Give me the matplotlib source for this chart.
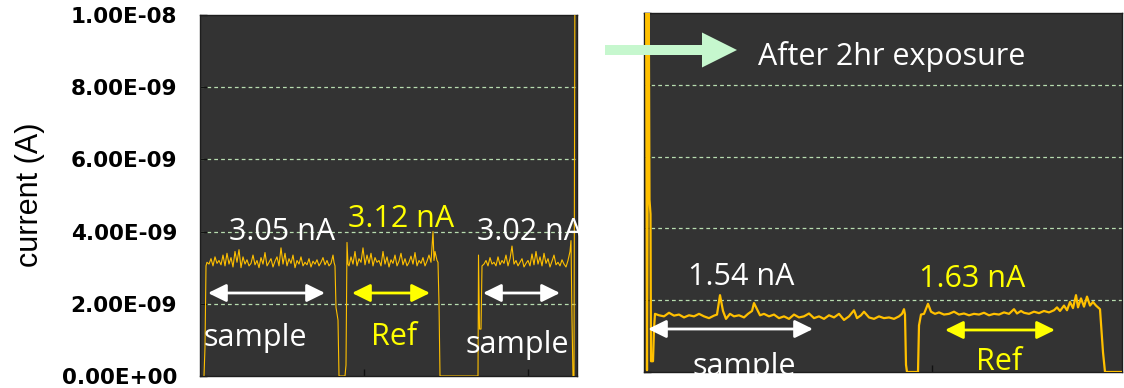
import matplotlib.pyplot as plt
import matplotlib.patches as mpatches

# ---- data (time in s, current in nA) ----
# before exposure: sample / Ref / sample
t_before = [4, 5, 6,
            7, 9, 11, 13, 15, 17, 19, 21, 23, 25, 27, 29, 31, 33, 35, 37, 39, 41,
            43, 45, 47, 49, 51, 53, 55, 57, 59, 61, 63, 65, 67, 69, 71, 73, 75, 77,
            79, 81, 83, 85, 87, 89, 91, 93, 95, 97, 99, 101, 103, 105, 107, 109,
            111, 113, 115, 117, 119, 121, 123, 125, 127, 129, 131, 133, 134, 135,
            136, 138, 139, 145,
            146, 147, 148,
            149, 151, 153, 155, 157, 159, 161, 163, 165, 167, 169, 171, 173, 175,
            177, 179, 181, 183, 185, 187, 189, 191, 193, 195, 197, 199, 201, 203,
            205, 207, 209, 211, 213, 215, 217, 219, 221, 223, 225, 227, 229, 231,
            233, 234, 235, 237, 238, 239, 240,
            278, 278.5, 279.5, 281, 282,
            284, 286, 288, 290, 292, 294, 296, 298, 300, 302, 304, 306, 308, 310,
            312, 314, 316, 318, 320, 322, 324, 326, 328, 330, 332, 334, 336, 338,
            340, 342, 344, 346, 348, 350, 352, 354, 356, 358, 360, 362, 364, 366,
            368, 370, 371, 372, 373, 374, 375, 377]
i_before = [0.0, 0.8, 3.05,
            3.15, 3.10, 3.25, 3.05, 3.30, 3.12, 3.20, 3.08, 3.35, 3.05, 3.40, 3.10,
            3.28, 3.02, 3.45, 3.15, 3.50, 3.00, 3.30, 3.10, 3.22, 3.05, 3.12, 3.35,
            3.08, 3.20, 3.00, 3.28, 3.10, 3.42, 3.05, 3.15, 3.25, 3.02, 3.18, 3.30,
            3.05, 3.55, 3.10, 3.40, 3.05, 3.25, 3.12, 3.35, 3.00, 3.20, 3.10, 3.30,
            3.05, 3.15, 3.08, 3.25, 3.02, 3.18, 3.10, 3.22, 3.05, 3.15, 3.28, 3.08,
            3.20, 3.05, 3.12, 3.35, 3.15, 3.05,
            1.90, 1.55, 0.0, 0.0,
            0.3, 3.70, 3.10,
            3.05, 3.30, 3.10, 3.45, 3.05, 3.25, 3.15, 3.55, 3.08, 3.35, 3.12, 3.40,
            3.05, 3.28, 3.15, 3.20, 3.05, 3.45, 3.10, 3.30, 3.02, 3.22, 3.12, 3.35,
            3.05, 3.18, 3.40, 3.08, 3.25, 3.05, 3.15, 3.32, 3.10, 3.42, 3.05, 3.20,
            3.12, 3.28, 3.05, 3.18, 3.35, 3.15, 4.00, 3.20, 3.45, 3.20, 3.15, 2.0,
            0.0,
            0.0, 3.35, 1.30, 1.30, 3.05,
            3.10, 3.20, 3.05, 3.28, 3.10, 3.15, 3.05, 3.30, 3.08, 3.20, 3.12, 3.35,
            3.05, 3.25, 3.60, 3.10, 3.20, 3.05, 3.15, 3.25, 3.02, 3.12, 3.20, 3.05,
            3.38, 3.08, 3.45, 3.10, 3.30, 3.05, 3.40, 3.12, 3.25, 3.02, 3.18, 3.35,
            3.08, 3.15, 3.05, 3.22, 3.10, 3.02, 3.20, 3.45, 3.75, 1.55, 0.0, 0.0,
            12.0, 12.0]

# after 2hr exposure: sample / Ref
t_after = [2, 3, 4.5, 5.5, 6.5, 7, 9, 10, 11,
           15, 20, 25, 30, 35, 40, 45, 50, 55, 60, 65, 70, 73, 76, 79, 82, 86,
           90, 95, 100, 104, 108, 110, 113, 116, 120, 125, 130, 135, 140, 145,
           150, 155, 160, 165, 170, 175, 180, 185, 190, 195, 200, 205, 210, 213,
           217, 220, 225, 230, 235, 240, 245, 250, 255, 258, 260, 261, 262, 263,
           274, 275, 277, 280, 284, 287, 291,
           295, 300, 305, 310, 315, 320, 325, 330, 335, 340, 345, 350, 355, 360,
           365, 370, 373, 377, 380, 385, 390, 395, 400, 405, 410, 413, 416, 420,
           423, 426, 429, 432, 434, 437, 440, 443, 446, 449, 452, 456, 459, 461,
           478]
i_after = [12.0, 0.05, 12.0, 4.8, 4.4, 0.3, 0.3, 1.2, 1.62,
           1.58, 1.55, 1.65, 1.57, 1.60, 1.52, 1.58, 1.55, 1.62, 1.55, 1.50, 1.57,
           1.60, 2.14, 1.70, 1.48, 1.62, 1.55, 1.58, 1.52, 1.62, 1.70, 1.92, 1.75,
           1.58, 1.62, 1.55, 1.60, 1.50, 1.55, 1.48, 1.60, 1.52, 1.55, 1.63, 1.50,
           1.55, 1.48, 1.58, 1.52, 1.62, 1.45, 1.55, 1.72, 1.50, 1.58, 1.68, 1.52,
           1.48, 1.55, 1.50, 1.52, 1.48, 1.55, 1.62, 1.75, 1.60, 0.2, 0.0,
           0.0, 1.30, 1.60, 1.62, 1.90, 1.68, 1.62,
           1.66, 1.60, 1.62, 1.68, 1.60, 1.63, 1.58, 1.62, 1.60, 1.65, 1.58, 1.62,
           1.60, 1.66, 1.62, 1.75, 1.63, 1.70, 1.65, 1.62, 1.68, 1.64, 1.70, 1.66,
           1.72, 1.80, 1.70, 1.85, 1.72, 1.95, 1.78, 2.14, 1.80, 2.05, 1.82, 2.10,
           1.85, 1.95, 1.85, 1.75, 0.55, 0.0, 0.0]

y_ticks = [0, 2e-9, 4e-9, 6e-9, 8e-9, 1e-8]

W, H = 1124, 388
TRACE = '#FFC000'
YEL = '#FFFF00'
BG = '#333333'
GRID = '#B8DDB0'
TXT_FONT = ['Open Sans', 'DejaVu Sans']


def px(x, y):
    return x / W, 1 - y / H


fig = plt.figure(figsize=(W / 100, H / 100), dpi=100)
ax1 = fig.add_axes([200 / W, 12 / H, 377 / W, 361 / H])
ax2 = fig.add_axes([644 / W, 16 / H, 478 / W, 359 / H])

for ax in (ax1, ax2):
    ax.set_facecolor(BG)
    ax.set_ylim(0, 1e-8)
    ax.set_yticks(y_ticks)
    for yv in y_ticks[1:-1]:
        ax.axhline(yv, color=GRID, lw=0.9, ls=(0, (3, 2.5)), zorder=1)
    for s in ax.spines.values():
        s.set_color('#1e1e1e')
        s.set_linewidth(1)
    ax.tick_params(axis='both', direction='in', color='#111111', length=5, width=1)

ax1.plot(t_before, [v * 1e-9 for v in i_before], color=TRACE, lw=0.8, zorder=3)
ax1.set_xlim(0, 377)
ax1.set_xticks([164, 328])
ax1.set_xticklabels([])
ax1.set_yticklabels([f'{v:.2E}' for v in y_ticks], fontsize=15.5, fontweight='heavy',
                    family='DejaVu Sans')
ax1.tick_params(axis='y', pad=16.5)

ax2.plot(t_after, [v * 1e-9 for v in i_after], color=TRACE, lw=1.6, zorder=3)
ax2.set_xlim(0, 478)
ax2.set_xticks([288])
ax2.set_xticklabels([])
ax2.set_yticklabels([])

fig.text(*px(30, 195), 'current (A)', rotation=90, ha='center', va='center',
         fontsize=22, family='Liberation Sans')

# annotations
labels = [
    ('3.05 nA', 282.5, 240, 'center', 'white'),
    ('3.12 nA', 401, 227, 'center', YEL),
    ('3.02 nA', 477, 240, 'left', 'white'),
    ('sample', 255, 346, 'center', 'white'),
    ('Ref', 394.5, 345, 'center', YEL),
    ('sample', 517, 353, 'center', 'white'),
    ('After 2hr exposure', 758, 65, 'left', 'white'),
    ('1.54 nA', 741, 285, 'center', 'white'),
    ('1.63 nA', 972.5, 287, 'center', YEL),
    ('sample', 744, 375, 'center', 'white'),
    ('Ref', 999.5, 370, 'center', YEL),
]
for s, x, y, ha, c in labels:
    fig.text(*px(x, y), s, ha=ha, va='baseline', color=c, fontsize=22,
             family=TXT_FONT, zorder=5)

arrows = [
    (208, 325, 293, 'white'),
    (352, 430, 293, YEL),
    (483, 560, 293, 'white'),
    (648, 813, 329, 'white'),
    (945, 1055, 330, YEL),
]
for x0, x1, y, c in arrows:
    fig.add_artist(mpatches.FancyArrowPatch(
        px(x0, y), px(x1, y), transform=fig.transFigure,
        arrowstyle='<|-|>,head_length=0.55,head_width=0.27', mutation_scale=20,
        color=c, lw=2, shrinkA=0, shrinkB=0, zorder=6))

# big green arrow
fig.add_artist(mpatches.FancyArrow(
    6.05, (H - 50) / 100, 1.32, 0, width=0.10, head_width=0.35, head_length=0.35,
    length_includes_head=True, transform=fig.dpi_scale_trans,
    color='#C6F7CE', lw=0, zorder=7))

plt.savefig('out.png', dpi=100)
